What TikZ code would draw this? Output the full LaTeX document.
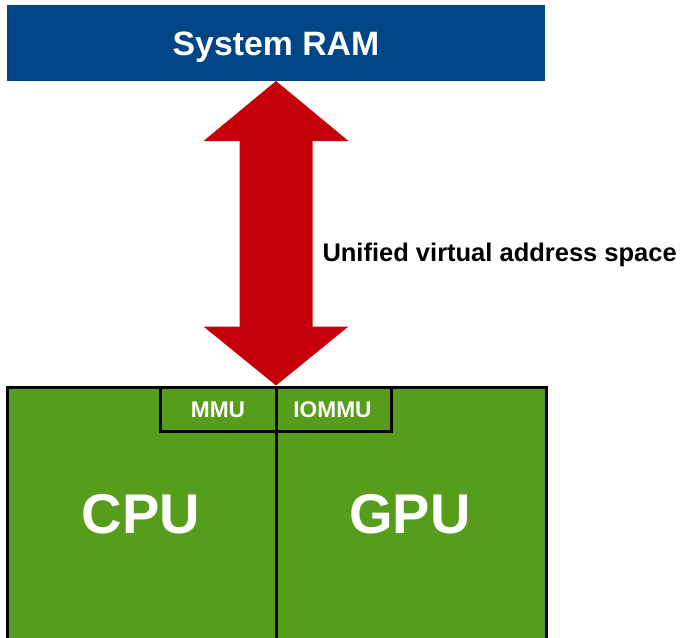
\documentclass[tikz,border=0pt]{standalone}
\usepackage{fontspec}
\setmainfont{Liberation Sans}
\usetikzlibrary{calc}
\definecolor{ramblue}{HTML}{004586}
\definecolor{arrowred}{HTML}{C5000B}
\definecolor{chipgreen}{HTML}{579D1C}
\begin{document}
\begin{tikzpicture}[x=1pt,y=-1pt,
  every node/.style={outer sep=0pt, inner sep=0pt},
  chip/.style={draw=black, line width=3pt, fill=chipgreen, minimum height=270pt, anchor=north west},
  unit/.style={draw=black, line width=3pt, fill=chipgreen, minimum height=44pt},
  bigtxt/.style={anchor=base, text=white, font=\fontsize{56}{60}\selectfont\bfseries},
  unittxt/.style={anchor=base, text=white, font=\fontsize{22.7}{26}\selectfont\bfseries},
]
\useasboundingbox (0,0) rectangle (685,637);
\clip (0,0) rectangle (685,637);
\node[fill=ramblue, minimum width=538pt, minimum height=76pt, anchor=north west] (ram) at (7,5) {};
\node[anchor=base, text=white, font=\fontsize{33.8}{40}\selectfont\bfseries] (ramtxt)
  at ($(ram.north)+(0,50)$) {System RAM};
\node[chip, minimum width=269pt] (cpu) at (7,387) {};
\node[chip, minimum width=270pt] (gpu) at (cpu.north east) {};
\node[bigtxt] (cputxt) at ($(cpu.north)+(-0.5,146)$) {CPU};
\node[bigtxt] (gputxt) at ($(gpu.north)+(-1,146)$) {GPU};
\node[unit, minimum width=116pt, anchor=north east] (mmu) at (cpu.north east) {};
\node[unit, minimum width=115pt, anchor=north west] (iommu) at (cpu.north east) {};
\node[unittxt] (mmutxt) at ($(mmu.north)+(0,30)$) {MMU};
\node[unittxt] (iommutxt) at ($(iommu.north)+(-1,30)$) {IOMMU};
\coordinate (t) at (ram.south);
\coordinate (b) at ($(cpu.north east)+(0,-1.5)$);
\fill[arrowred] (t) -- ($(t)+(72.5,60)$) -- ($(t)+(36.5,60)$) -- ($(b)+(36.5,-59)$)
  -- ($(b)+(72.5,-59)$) -- (b) -- ($(b)+(-72.5,-59)$) -- ($(b)+(-36.5,-59)$)
  -- ($(t)+(-36.5,60)$) -- ($(t)+(-72.5,60)$) -- cycle;
\node[anchor=base west, font=\fontsize{25.5}{30}\selectfont\bfseries] (lbl) at (322.5,261)
  {Unified virtual address space};
\end{tikzpicture}
\end{document}
